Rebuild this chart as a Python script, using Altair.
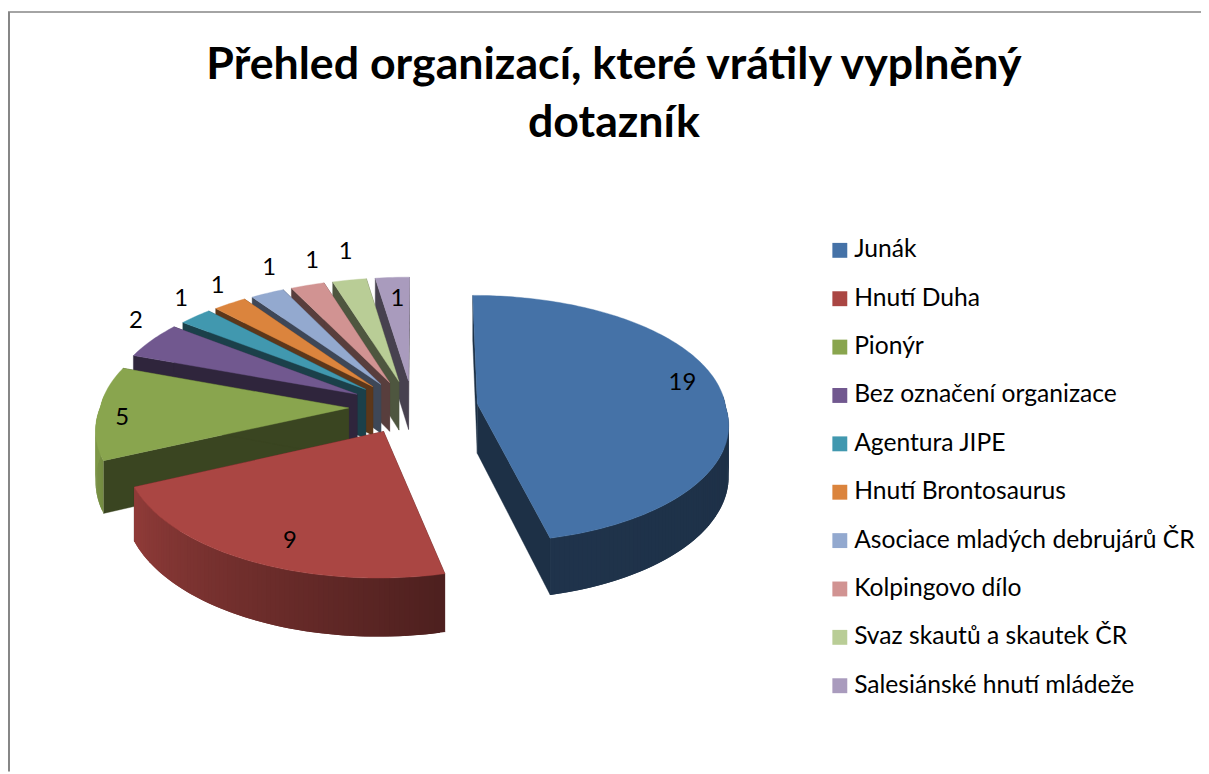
import math
import pandas as pd
import altair as alt

categories = ["Junák", "Hnutí Duha", "Pionýr", "Bez označení organizace", "Agentura JIPE",
              "Hnutí Brontosaurus", "Asociace mladých debrujárů ČR", "Kolpingovo dílo",
              "Svaz skautů a skautek ČR", "Salesiánské hnutí mládeže"]
values = [19, 9, 5, 2, 1, 1, 1, 1, 1, 1]
colors = ["#4572A7", "#AA4643", "#89A54E", "#71588F", "#4198AF",
          "#DB843D", "#93A9CF", "#D19392", "#B9CD96", "#A99BBD"]
title_text = "Přehled organizací, které vrátily vyplněný\ndotazník"
label_radius = [0.86, 0.83, 0.90, 1.17, 1.18, 1.18, 1.24, 1.25, 1.31, 0.77]
label_turn = [-5, -4, -3, 6, 4, 3, 6, 5, 2, 0.5]

W, H = 1201, 766
CX, CY, VX = 408.0, 399.0, 415.0   # pie centre and vanishing x (view pixels)
R, RY, EX, EY, DEPTH = 250.0, 122.0, 0.26, 0.22, 50.0
K_FRONT, KX_BACK, KY_BACK = 0.15, 0.08, 0.10


def proj(x, y, z=0.0):
    sx = 1 + (K_FRONT if y > 0 else KX_BACK) * y
    sy = 1 + (K_FRONT if y > 0 else KY_BACK) * y
    return [VX + (CX + R * x - VX) * sx, CY + (RY * y + z) * sy]


def shade_hex(c, f):
    r, g, b = (int(c[i:i + 2], 16) for i in (1, 3, 5))
    return "#%02x%02x%02x" % (round(r * f), round(g * f), round(b * f))


def shade(theta):
    stops = [(0, .55), (90, .42), (166, .45), (246, .85), (270, .93), (360, .6)]
    for (a, fa), (b, fb) in zip(stops, stops[1:]):
        if a <= theta <= b:
            return fa + (fb - fa) * (theta - a) / (b - a)
    return .6


def feat(pts, name, color, sw=0.4):
    ring = pts + [pts[0]]
    return {"type": "Feature", "geometry": {"type": "Polygon", "coordinates": [ring]},
            "properties": {"name": name, "c": color, "sw": sw}}


total = sum(values)
spans, acc = [], 0.0
for v in values:
    spans.append((acc, acc + v / total * 360))
    acc += v / total * 360

features, labels = [], []
order = [i for i in range(len(values))[::-1] if i > 1] + [1, 0]
for i in order:
    a0, a1 = spans[i]
    mid = math.radians((a0 + a1) / 2)
    ox, oy = EX * math.sin(mid), -EY * math.cos(mid)
    col = colors[i]
    def rim(t, r=1.0):
        t = math.radians(t)
        return ox + r * math.sin(t), oy - r * math.cos(t)
    n = max(2, int((a1 - a0) / 1.0))
    ts = [a0 + (a1 - a0) * j / n for j in range(n + 1)]
    dark = shade_hex(col, .42)
    for t in (a0, a1):
        p = rim(t)
        features.append(feat([proj(ox, oy), proj(*p), proj(*p, DEPTH), proj(ox, oy, DEPTH)], categories[i], dark))
    # overlapping wall strips on the viewer's side only, so no seams show between them
    for j in range(n):
        if not 85 <= ts[j] <= 275:
            continue
        t0, t1 = ts[j], ts[min(j + 2, n)]
        p0, p1 = rim(t0), rim(t1)
        features.append(feat([proj(*p0), proj(*p1), proj(*p1, DEPTH), proj(*p0, DEPTH)],
                             categories[i], shade_hex(col, shade((ts[j] + ts[j + 1]) / 2)), 0))
    features.append(feat([proj(ox, oy)] + [proj(*rim(t)) for t in ts], categories[i], col))
    lx, ly = proj(*rim((a0 + a1) / 2 + label_turn[i], label_radius[i]))
    labels.append({"x": lx, "y": ly, "v": values[i]})

PROJ = dict(type="identity", scale=1, translate=[0, 0])

pie = alt.Chart(alt.Data(values=features)).mark_geoshape().encode(
    color=alt.Color("properties.c:N", scale=None, legend=None),
    stroke=alt.Stroke("properties.c:N", scale=None, legend=None),
    strokeWidth=alt.StrokeWidth("properties.sw:Q", scale=None, legend=None),
).project(**PROJ)

legend_layer = alt.Chart(pd.DataFrame({"name": categories})).mark_square(size=225, opacity=0).encode(
    x=alt.value(-100), y=alt.value(-100),
    fill=alt.Fill("name:N", scale=alt.Scale(domain=categories, range=colors),
                  legend=alt.Legend(title=None, orient="none", legendX=825, legendY=229,
                                    symbolType="square", symbolSize=225, symbolStrokeWidth=0,
                                    symbolOpacity=1, labelFontSize=24.8, labelFont="Lato", labelColor="#000000",
                                    labelOffset=2, rowPadding=22.7, labelLimit=400, padding=0)),
)

text = alt.Chart(pd.DataFrame(labels)).mark_text(font="Lato", fontSize=24, color="#000000").encode(
    longitude="x:Q", latitude="y:Q", text="v:Q"
).project(**PROJ)

title_mark = alt.Chart(pd.DataFrame({"t": [title_text]})).mark_text(
    font="Lato", fontSize=45, fontWeight="bold", color="#000000", align="center",
    baseline="alphabetic", lineBreak="\n", lineHeight=58,
).encode(x=alt.value(610), y=alt.value(69), text="t:N")

dummy = pd.DataFrame({"a": [0]})
frame_l = alt.Chart(dummy).mark_rule(color="#868686", strokeWidth=2).encode(
    x=alt.value(1), y=alt.value(1.5), y2=alt.value(H))
frame_t = alt.Chart(dummy).mark_rule(color="#868686", strokeWidth=1.5).encode(
    y=alt.value(1.5), x=alt.value(0), x2=alt.value(W))

chart = alt.layer(frame_l, frame_t, title_mark, pie, text, legend_layer).properties(
    width=W, height=H, padding=0, autosize=alt.AutoSizeParams(type="none"),
).resolve_scale(color="independent", fill="independent").configure_view(stroke=None)

chart.save("out.html", embed_options={"renderer": "svg", "actions": False})
